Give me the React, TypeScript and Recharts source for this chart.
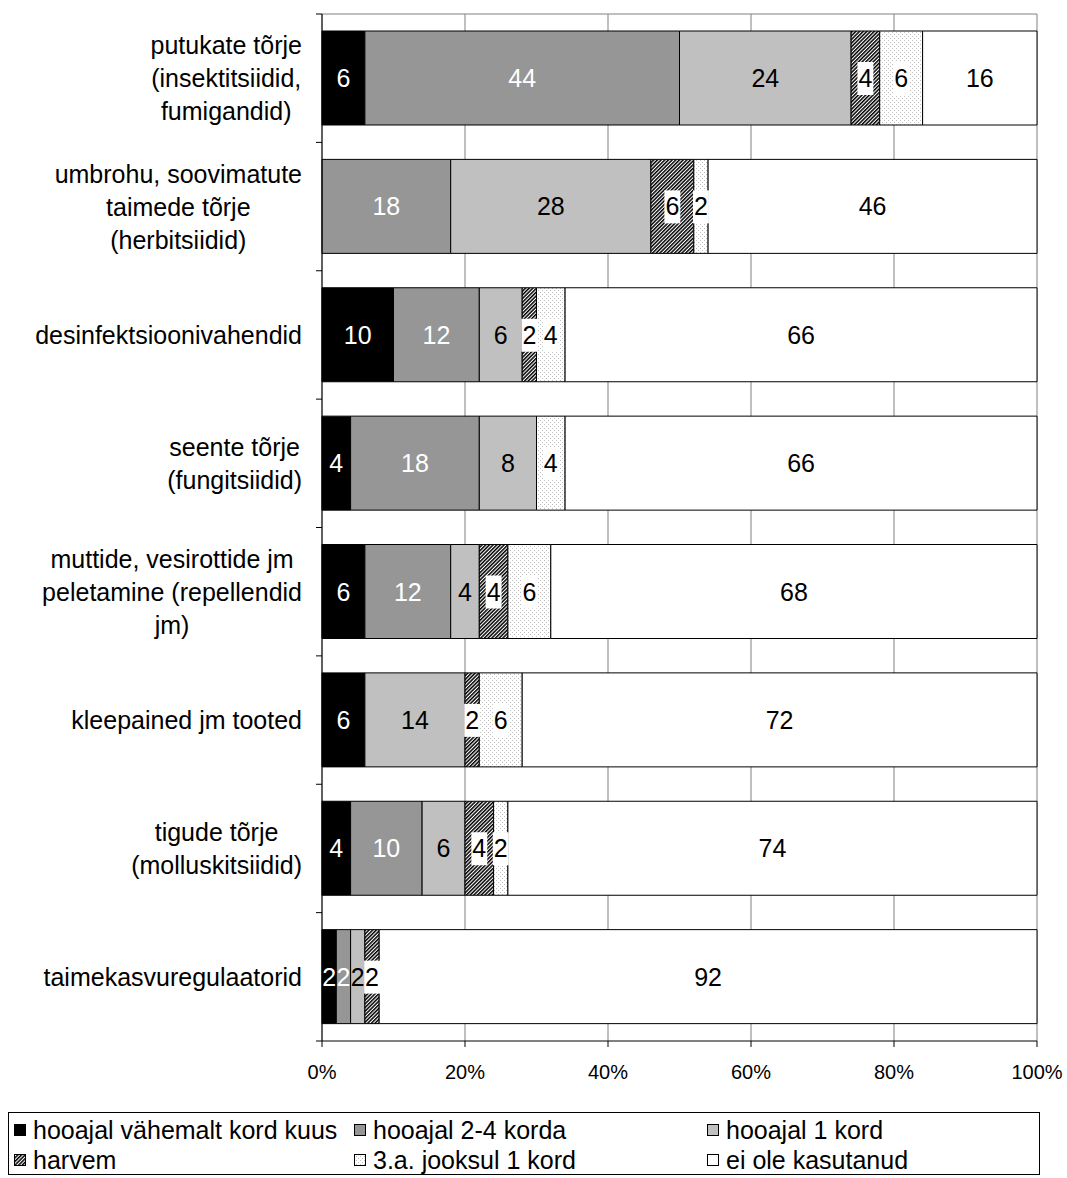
import React from "react";
import { BarChart, Bar, XAxis, YAxis, CartesianGrid, LabelList, Legend } from "recharts";

// kategooriad (reavahetusega nagu originaalis)
const categories = [
  "putukate tõrje\n(insektitsiidid,\nfumigandid)",
  "umbrohu, soovimatute\ntaimede tõrje\n(herbitsiidid)",
  "desinfektsioonivahendid",
  "seente tõrje\n(fungitsiidid)",
  "muttide, vesirottide jm\npeletamine (repellendid\njm)",
  "kleepained jm tooted",
  "tigude tõrje\n(molluskitsiidid)",
  "taimekasvuregulaatorid",
];

const seriesNames = [
  "hooajal vähemalt kord kuus",
  "hooajal 2-4 korda",
  "hooajal 1 kord",
  "harvem",
  "3.a. jooksul 1 kord",
  "ei ole kasutanud",
];

const kordKuus = [6, 0, 10, 4, 6, 6, 4, 2];
const korda24 = [44, 18, 12, 18, 12, 0, 10, 2];
const kord1 = [24, 28, 6, 8, 4, 14, 6, 2];
const harvem = [4, 6, 2, 0, 4, 2, 4, 2];
const kolmeAasta = [6, 2, 4, 4, 6, 6, 2, 0];
const eiOle = [16, 46, 66, 66, 68, 72, 74, 92];

const xTicks = [0, 20, 40, 60, 80, 100];

const data = categories.map((name, i) => ({
  name,
  s0: kordKuus[i],
  s1: korda24[i],
  s2: kord1[i],
  s3: harvem[i],
  s4: kolmeAasta[i],
  s5: eiOle[i],
}));

const FONT = "'Liberation Sans', Arial, sans-serif";
const fills = ["#000000", "#969696", "#c0c0c0", "url(#harvem)", "url(#dots)", "#ffffff"];
const labelColors = ["#fff", "#fff", "#000", "#000", "#000", "#000"];
const boxed = [false, false, false, true, true, false];

let ctx: CanvasRenderingContext2D | null = null;
function measure(text: string, size: number) {
  if (!ctx) ctx = document.createElement("canvas").getContext("2d");
  if (!ctx) return text.length * size * 0.55;
  ctx.font = `${size}px ${FONT}`;
  return ctx.measureText(text).width;
}

const PLOT_TOP = 14;
const PLOT_BOTTOM = 1041;
const BAND = (PLOT_BOTTOM - PLOT_TOP) / categories.length;

const makeLabel = (idx: number) => (props: any) => {
  const { x, y, width, height, value } = props;
  if (!value) return null;
  const cx = Number(x) + Number(width) / 2;
  const cy = Number(y) + Number(height) / 2;
  const text = String(value);
  const w = measure(text, 25);
  return (
    <g>
      {boxed[idx] && <rect x={cx - w / 2 - 1} y={cy - 16} width={w + 2} height={33} fill="#fff" />}
      <text x={cx} y={cy} textAnchor="middle" dominantBaseline="central" fill={labelColors[idx]} fontSize={25} fontFamily={FONT}>
        {text}
      </text>
    </g>
  );
};

const CategoryTick = (props: any) => {
  const { y, payload, index } = props;
  const lines = String(payload.value).split("\n");
  const maxW = Math.max(...lines.map((l) => measure(l, 25)));
  const cx = 302 - maxW / 2;
  return (
    <g>
      <line x1={316} x2={322} y1={y - BAND / 2} y2={y - BAND / 2} stroke="#000" />
      {index === categories.length - 1 && <line x1={316} x2={322} y1={y + BAND / 2} y2={y + BAND / 2} stroke="#000" />}
      {lines.map((l, i) => (
        <text key={i} x={cx} y={y + (i - (lines.length - 1) / 2) * 33} textAnchor="middle" dominantBaseline="central" fontSize={25} fontFamily={FONT} fill="#000">
          {l}
        </text>
      ))}
    </g>
  );
};

const colLeft = [5, 345, 698];

const LegendBox = () => (
  <div style={{ position: "relative", width: 1032, height: 63, border: "1px solid #000", boxSizing: "border-box", background: "#fff", fontFamily: FONT, fontSize: 25, color: "#000" }}>
    {seriesNames.map((n, i) => (
      <div key={n} style={{ position: "absolute", left: colLeft[i % 3], top: 2 + Math.floor(i / 3) * 30, height: 30, lineHeight: "30px", whiteSpace: "nowrap", display: "flex", alignItems: "center" }}>
        <svg width={13} height={13} style={{ marginRight: 6 }}>
          <rect x={0.5} y={0.5} width={11} height={11} fill={fills[i]} stroke="#000" strokeWidth={1} />
        </svg>
        <span>{n}</span>
      </div>
    ))}
  </div>
);

export default function App() {
  return (
    <div style={{ position: "absolute", left: 0, top: 0, width: 1067, height: 1176, background: "#fff", fontFamily: FONT }}>
      <BarChart
        width={1067}
        height={1176}
        data={data}
        layout="vertical"
        barSize={94}
        margin={{ top: PLOT_TOP, right: 30, left: 0, bottom: 85 }}
      >
        <defs>
          <pattern id="harvem" width="2.6" height="2.6" patternUnits="userSpaceOnUse" patternTransform="rotate(45)">
            <rect width="2.6" height="2.6" fill="#fff" />
            <rect width="1.5" height="2.6" fill="#000" />
          </pattern>
          <pattern id="dots" width="4" height="4" patternUnits="userSpaceOnUse">
            <rect width="4" height="4" fill="#fff" />
            <rect x="0" y="0" width="1" height="1" fill="#bdbdbd" />
            <rect x="2" y="2" width="1" height="1" fill="#bdbdbd" />
          </pattern>
        </defs>
        <CartesianGrid
          stroke="#808080"
          vertical
          horizontalCoordinatesGenerator={({ offset }: any) => [offset.top]}
        />
        <XAxis
          type="number"
          domain={[0, 100]}
          ticks={xTicks}
          tickFormatter={(v) => `${v}%`}
          tick={{ fill: "#000", fontSize: 20, fontFamily: FONT }}
          tickLine={{ stroke: "#000" }}
          axisLine={{ stroke: "#000" }}
          tickSize={6}
          tickMargin={18}
          height={50}
          interval={0}
        />
        <YAxis
          type="category"
          dataKey="name"
          width={322}
          tick={<CategoryTick />}
          tickLine={false}
          axisLine={{ stroke: "#000" }}
          interval={0}
        />
        <Legend
          layout="horizontal"
          verticalAlign="middle"
          align="center"
          content={() => <LegendBox />}
          wrapperStyle={{ position: "absolute", left: 8, top: 1112, width: 1032, height: 63 }}
        />
        {seriesNames.map((n, i) => (
          <Bar key={n} dataKey={`s${i}`} name={n} stackId="a" fill={fills[i]} stroke="#000" strokeWidth={1} isAnimationActive={false}>
            <LabelList dataKey={`s${i}`} content={makeLabel(i)} />
          </Bar>
        ))}
      </BarChart>
    </div>
  );
}
